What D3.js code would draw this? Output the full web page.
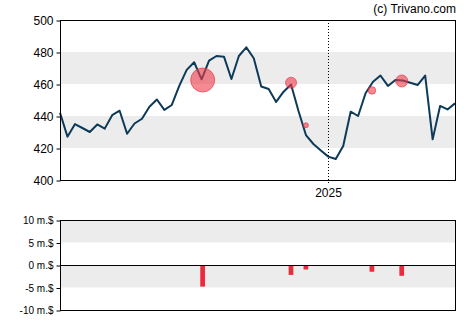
<!DOCTYPE html>
<html><head><meta charset="utf-8">
<script src="https://cdn.jsdelivr.net/npm/d3@7"></script>
<style>body{margin:0;background:#fff}svg{display:block;font-family:Arial,"Liberation Sans",sans-serif}</style>
</head><body><svg id="c" width="470" height="325"></svg>
<script>
const startDate = "2024-04-24";
const prices = [442,427.1,434.9,432.5,430,434.7,432.1,440.5,443.3,428.9,435.3,438.3,445.8,450.3,443.8,446.9,458.8,468.8,473.6,462.9,474.6,477.5,477.1,463.1,477.5,482.9,476.1,458.4,456.9,448.8,455.2,459.7,443.1,428.1,422.5,418.4,414.6,413.1,421.3,442.7,440,454.2,461.4,465.3,458.8,462.5,462.2,460.8,459.4,465.3,425.4,446.3,444.1,447.9];
const tradeDates = ["2024-09-05","2024-11-27","2024-12-11","2025-02-11","2025-03-11"];
const tradePrices = [462.5,460.8,434.2,456,461.9];
const tradeValues = [-4.8,-2.2,-1.0,-1.5,-2.4];
const priceTicks = [400,420,440,460,480,500];
const volTicks = [-10,-5,0,5,10];
const yearTicks = ["2025-01-01"];

const parse = d3.utcParse("%Y-%m-%d");
const t0 = parse(startDate);
const dates = prices.map((p,i)=>d3.utcDay.offset(t0, i*7));
const svg = d3.select("#c");
const L=60,R=455,T=20,B=180,T2=220,B2=310;
const x = d3.scaleUtc().domain([dates[0], dates[dates.length-1]]).range([L,R]);
const y = d3.scaleLinear().domain([400,500]).range([B,T]);
const y2 = d3.scaleLinear().domain([-10,10]).range([B2,T2]);

// bands
[[420,440],[460,480]].forEach(b=>svg.append("rect").attr("x",L).attr("width",R-L).attr("y",y(b[1])).attr("height",y(b[0])-y(b[1])).attr("fill","#ececec"));
[[-5,0],[5,10]].forEach(b=>svg.append("rect").attr("x",L).attr("width",R-L).attr("y",y2(b[1])).attr("height",y2(b[0])-y2(b[1])).attr("fill","#ececec"));

// year line
yearTicks.forEach(d=>{const xx=Math.round(x(parse(d)))+0.5;
  svg.append("line").attr("x1",xx).attr("x2",xx).attr("y1",T).attr("y2",B+4).attr("stroke","#000").attr("stroke-dasharray","1,2");
  svg.append("text").attr("x",xx).attr("y",197).attr("text-anchor","middle").attr("font-size",12).attr("fill","#000").text(d.slice(0,4));
});

// price line
svg.append("path").datum(prices).attr("fill","none").attr("stroke","#0d3a58").attr("stroke-width",2).attr("stroke-linejoin","round")
  .attr("d", d3.line().x((d,i)=>x(dates[i])).y(d=>y(d)));

// trade bubbles
tradeDates.forEach((d,i)=>svg.append("circle").attr("cx",x(parse(d))).attr("cy",y(tradePrices[i])).attr("r",Math.abs(tradeValues[i])*2.5)
  .attr("fill","#f03c4b").attr("fill-opacity",0.6).attr("stroke","#e8283c").attr("stroke-opacity",0.6));

// bars
tradeDates.forEach((d,i)=>{const v=tradeValues[i];
  svg.append("rect").attr("x",x(parse(d))-2.4).attr("width",4.7).attr("y",y2(Math.max(0,v))).attr("height",Math.abs(y2(v)-y2(0))).attr("fill","#f0283c");});

// frames
svg.append("rect").attr("x",L+0.5).attr("y",T+0.5).attr("width",R-L).attr("height",B-T).attr("fill","none").attr("stroke","#000");
svg.append("rect").attr("x",L+0.5).attr("y",T2+0.5).attr("width",R-L).attr("height",B2-T2).attr("fill","none").attr("stroke","#000");
svg.append("line").attr("x1",L).attr("x2",R+0.5).attr("y1",y2(0)+0.5).attr("y2",y2(0)+0.5).attr("stroke","#000");

// axes
const ay = svg.append("g").attr("transform",`translate(${L+0.5},0.5)`).call(d3.axisLeft(y).tickValues(priceTicks).tickSize(4).tickPadding(3).tickFormat(d3.format("d")));
ay.select(".domain").remove();
ay.selectAll("text").attr("font-size",12).attr("fill","#000").attr("font-family","Arial,'Liberation Sans',sans-serif");
const ay2 = svg.append("g").attr("transform",`translate(${L+0.5},0.5)`).call(d3.axisLeft(y2).tickValues(volTicks).tickSize(4).tickPadding(3).tickFormat(d=>d+" m.$"));
ay2.select(".domain").remove();
ay2.selectAll("text").attr("font-size",10).attr("fill","#000").attr("font-family","Arial,'Liberation Sans',sans-serif");

svg.append("text").attr("x",456).attr("y",13).attr("text-anchor","end").attr("font-size",12).attr("fill","#000").text("(c) Trivano.com");
</script></body></html>
